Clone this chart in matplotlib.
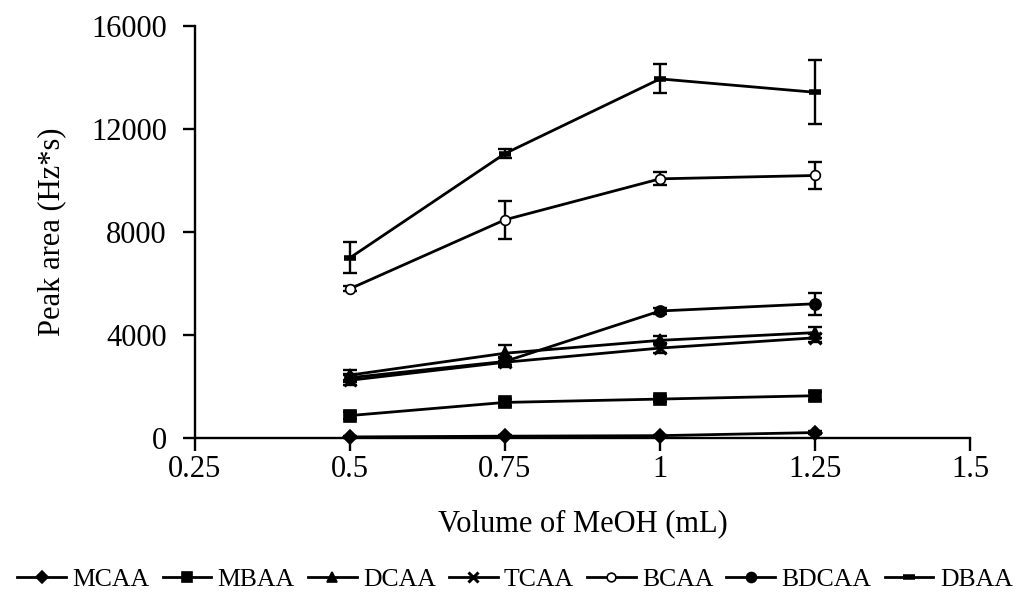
import matplotlib
matplotlib.use("Agg")
import matplotlib.pyplot as plt

# Volumen de MeOH (mL) y áreas de pico (Hz*s) de cada ácido haloacético
volumen = [0.5, 0.75, 1.0, 1.25]

mcaa = [50, 80, 100, 220]
mcaa_err = [30, 30, 30, 60]
mbaa = [880, 1390, 1520, 1650]
mbaa_err = [120, 150, 110, 150]
dcaa = [2450, 3300, 3800, 4100]
dcaa_err = [200, 300, 150, 200]
tcaa = [2250, 2950, 3500, 3900]
tcaa_err = [200, 200, 200, 150]
bcaa = [5800, 8480, 10070, 10200]
bcaa_err = [100, 730, 250, 540]
bdcaa = [2350, 2980, 4940, 5220]
bdcaa_err = [150, 150, 100, 420]
dbaa = [7000, 11050, 13950, 13430]
dbaa_err = [600, 160, 560, 1250]

nombres = ['MCAA', 'MBAA', 'DCAA', 'TCAA', 'BCAA', 'BDCAA', 'DBAA']
series = [mcaa, mbaa, dcaa, tcaa, bcaa, bdcaa, dbaa]
errores = [mcaa_err, mbaa_err, dcaa_err, tcaa_err, bcaa_err, bdcaa_err, dbaa_err]

# Marcadores de cada serie: (marker, tamaño, relleno, grosor de borde)
estilos = [('D', 7, 'k', 1.2), ('s', 8, 'k', 1.2), ('^', 8, 'k', 1.2),
           ('x', 8, 'k', 2.2), ('o', 7, 'white', 1.2), ('o', 8, 'k', 1.2),
           ('_', 9, 'k', 4.0)]

plt.rcParams['font.family'] = 'serif'
plt.rcParams['font.serif'] = ['Liberation Serif', 'DejaVu Serif']

fig = plt.figure(figsize=(10.3, 5.93), dpi=100)
ax = fig.add_axes([0.189, 0.261, 0.753, 0.695])

handles = []
for nombre, y, err, (mk, ms, fc, mew) in zip(nombres, series, errores, estilos):
    # barras de error por separado para que los topes no hereden el marcador
    ax.errorbar(volumen, y, yerr=err, fmt='none', ecolor='k',
                elinewidth=1.7, capsize=5, capthick=1.7, clip_on=False,
                zorder=2)
    ln, = ax.plot(volumen, y, color='k', lw=2.0, marker=mk, ms=ms,
                  mfc=fc, mec='k', mew=mew, label=nombre, clip_on=False,
                  zorder=3)
    handles.append(ln)

ax.set_xlim(0.25, 1.5)
ax.set_ylim(0, 16000)
ax.set_xticks([0.25, 0.5, 0.75, 1.0, 1.25, 1.5])
ax.set_xticklabels(['0.25', '0.5', '0.75', '1', '1.25', '1.5'])
ax.set_yticks([0, 4000, 8000, 12000, 16000])

for lado in ['top', 'right']:
    ax.spines[lado].set_visible(False)
for lado in ['left', 'bottom']:
    ax.spines[lado].set_linewidth(1.7)
ax.tick_params(axis='both', direction='out', length=9, width=1.7,
               labelsize=22)
ax.tick_params(axis='y', pad=11)
ax.tick_params(axis='x', pad=3)

ax.set_xlabel('Volume of MeOH (mL)', fontsize=22, labelpad=18)
ax.set_ylabel('Peak area (Hz*s)', fontsize=22, labelpad=18)

fig.legend(handles=handles, loc='center', bbox_to_anchor=(0.5, 0.022),
           ncol=7, frameon=False, fontsize=18.5, handlelength=1.9,
           handletextpad=0.25, columnspacing=0.5, borderpad=0.1,
           borderaxespad=0, markerscale=0.9)

fig.savefig('out.png', dpi=100)
